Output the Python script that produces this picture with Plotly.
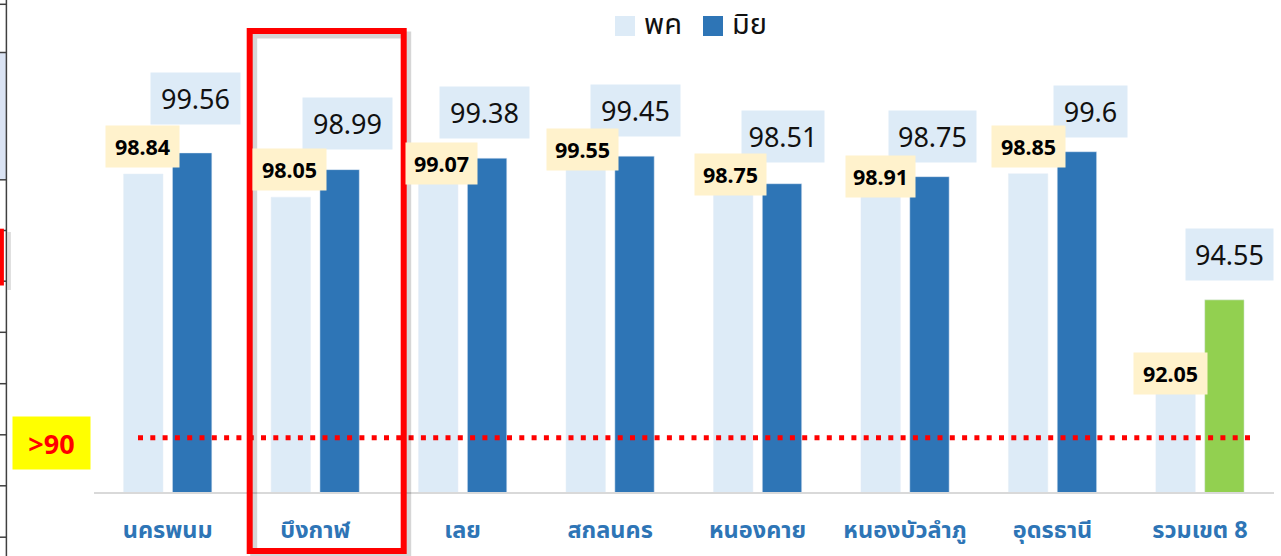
import plotly.graph_objects as go

# ---------------- data ----------------
categories = ["นครพนม", "บึงกาฬ", "เลย", "สกลนคร", "หนองคาย", "หนองบัวลำภู", "อุดรธานี", "รวมเขต 8"]
series_names = ["พค", "มิย"]
may_values = [98.84, 98.05, 99.07, 99.55, 98.75, 98.91, 98.85, 92.05]
jun_values = [99.56, 98.99, 99.38, 99.45, 98.51, 98.75, 99.6, 94.55]
threshold = 90
threshold_label = ">90"
highlight_category = "บึงกาฬ"

# ---------------- styling ----------------
W, H = 1281, 556
ML, MR, MT, MB = 94, 7, 52, 64
PW, PH = W - ML - MR, H - MT - MB
Y_RANGE = [88, 103]

C_LIGHT = "#DDEBF7"
C_DARK = "#2E75B6"
C_TOTAL = "#92D050"
C_BEIGE = "#FFF2CC"
C_BLUEBOX = "#DDEBF7"

# label box offsets (pixels, relative to category centre / bar top) and sizes
may_lbl_dx = [-24.9, -25.4, -20.8, -27.6, -27.6, -25.0, -24.5, -29.8]
may_lbl_dy = [27.8, 27.9, 4.0, 3.9, 1.7, -4.3, 27.5, 0.2]
may_lbl_w = [73, 73, 71, 71, 71, 69, 73, 73]
jun_lbl_dx = [27.3, 32.3, 21.4, 24.9, 25.1, 27.2, 37.5, 29.5]
jun_lbl_dy = [54.9, 46.4, 45.7, 45.8, 47.3, 40.5, 40.6, 45.2]
jun_lbl_w = [89, 89, 89, 89, 82, 87, 73, 87]

FONT_NUM = "Noto Sans, Open Sans, sans-serif"
FONT_TH = "Noto Sans Thai, Noto Sans, Loma, Garuda, sans-serif"


def px(xp):
    return (xp - ML) / PW


def py(yp):
    return (H - MB - yp) / PH


dark_colors = [C_DARK] * (len(categories) - 1) + [C_TOTAL]

fig = go.Figure()
fig.add_trace(go.Bar(name=series_names[0], x=categories, y=may_values,
                     marker=dict(color=C_LIGHT), showlegend=False,
                     hoverinfo="x+y"))
fig.add_trace(go.Bar(name=series_names[1], x=categories, y=jun_values,
                     marker=dict(color=dark_colors), showlegend=False,
                     hoverinfo="x+y"))

annotations = []
# June labels (blue boxes) first, May labels (beige) on top
for i, c in enumerate(categories):
    annotations.append(dict(
        x=c, y=jun_values[i], xref="x", yref="y", text=f"{jun_values[i]:g}",
        showarrow=False, xshift=jun_lbl_dx[i], yshift=jun_lbl_dy[i],
        bgcolor=C_BLUEBOX, width=jun_lbl_w[i], height=51, borderpad=0,
        align="center", valign="middle",
        font=dict(family=FONT_NUM, size=27, color="#111111")))
for i, c in enumerate(categories):
    annotations.append(dict(
        x=c, y=may_values[i], xref="x", yref="y", text=f"<b>{may_values[i]:g}</b>",
        showarrow=False, xshift=may_lbl_dx[i], yshift=may_lbl_dy[i],
        bgcolor=C_BEIGE, width=may_lbl_w[i], height=41, borderpad=0,
        align="center", valign="middle",
        font=dict(family=FONT_NUM, size=21.5, color="#000000")))

# threshold label
annotations.append(dict(
    x=px(51), y=py(443), xref="paper", yref="paper", text=f"<b>{threshold_label}</b>",
    xanchor="center", yanchor="middle",
    showarrow=False, bgcolor="#FFFF00", width=77, height=52, borderpad=0,
    font=dict(family=FONT_NUM, size=27, color="#FF0000")))

# custom legend
legend_x = [615, 703]
legend_cols = [C_LIGHT, C_DARK]
shapes = []
for k, name in enumerate(series_names):
    shapes.append(dict(type="rect", xref="paper", yref="paper",
                       x0=px(legend_x[k]), x1=px(legend_x[k] + 20),
                       y0=py(36), y1=py(16), line=dict(width=0),
                       fillcolor=legend_cols[k]))
    annotations.append(dict(x=px(legend_x[k] + 27), y=py(25), xref="paper", yref="paper",
                            text=name, showarrow=False, xanchor="left", yanchor="middle",
                            font=dict(family=FONT_TH, size=29, color="#111111")))

# threshold dotted line
shapes.append(dict(type="line", xref="paper", yref="y", ysizemode="pixel", yanchor=threshold,
                   x0=px(138), x1=px(1250), y0=-4.3, y1=-4.3,
                   line=dict(color="#FF0000", width=5, dash="5px,7.3px"), layer="above"))

# highlight rectangle around a category (with soft shadow)
shapes.append(dict(type="rect", xref="paper", yref="paper",
                   x0=px(249.7 + 4), x1=px(403.7 + 4), y0=py(551 + 4), y1=py(31 + 4),
                   line=dict(color="rgba(0,0,0,0.16)", width=7), layer="above"))
shapes.append(dict(type="rect", xref="paper", yref="paper",
                   x0=px(249.7), x1=px(403.7), y0=py(551), y1=py(31),
                   line=dict(color="#FF0000", width=6), layer="above"))

# fragment of a neighbouring table at the left edge
shapes.append(dict(type="rect", xref="paper", yref="paper", x0=px(0), x1=px(6.4),
                   y0=py(179.8), y1=py(52.5), line=dict(width=0), fillcolor="#DAE3F3"))
for yl in [4.3, 52.5, 179.8, 230.5, 281.2, 332.3, 383.7, 434.8, 485.8, 537.2]:
    shapes.append(dict(type="line", xref="paper", yref="paper", x0=px(0), x1=px(6.4),
                       y0=py(yl), y1=py(yl), line=dict(color="#404040", width=1.5)))
shapes.append(dict(type="line", xref="paper", yref="paper", x0=px(6.4), x1=px(6.4),
                   y0=py(0), y1=py(556), line=dict(color="#404040", width=1.5)))
shapes.append(dict(type="rect", xref="paper", yref="paper", x0=px(7.5), x1=px(11),
                   y0=py(290), y1=py(232), line=dict(width=0), fillcolor="rgba(0,0,0,0.12)"))
shapes.append(dict(type="rect", xref="paper", yref="paper", x0=px(0), x1=px(3.9),
                   y0=py(285.5), y1=py(228.7), line=dict(width=0), fillcolor="#FF0000"))

fig.update_layout(
    width=W, height=H, autosize=False,
    margin=dict(l=ML, r=MR, t=MT, b=MB),
    paper_bgcolor="white", plot_bgcolor="white",
    barmode="group", bargap=0.338, bargroupgap=0.193,
    showlegend=False,
    annotations=annotations, shapes=shapes,
    xaxis=dict(showline=True, linecolor="#D9D9D9", linewidth=2, ticks="",
               showgrid=False, zeroline=False, ticklabelstandoff=16,
               tickfont=dict(family=FONT_TH, size=23.5, color=C_DARK, weight="bold")),
    yaxis=dict(range=Y_RANGE, visible=False, showgrid=False, zeroline=False),
)

fig.write_html("out.html", config={"displayModeBar": False},
               post_script="document.body.style.margin='0px';document.body.style.overflow='hidden';")
